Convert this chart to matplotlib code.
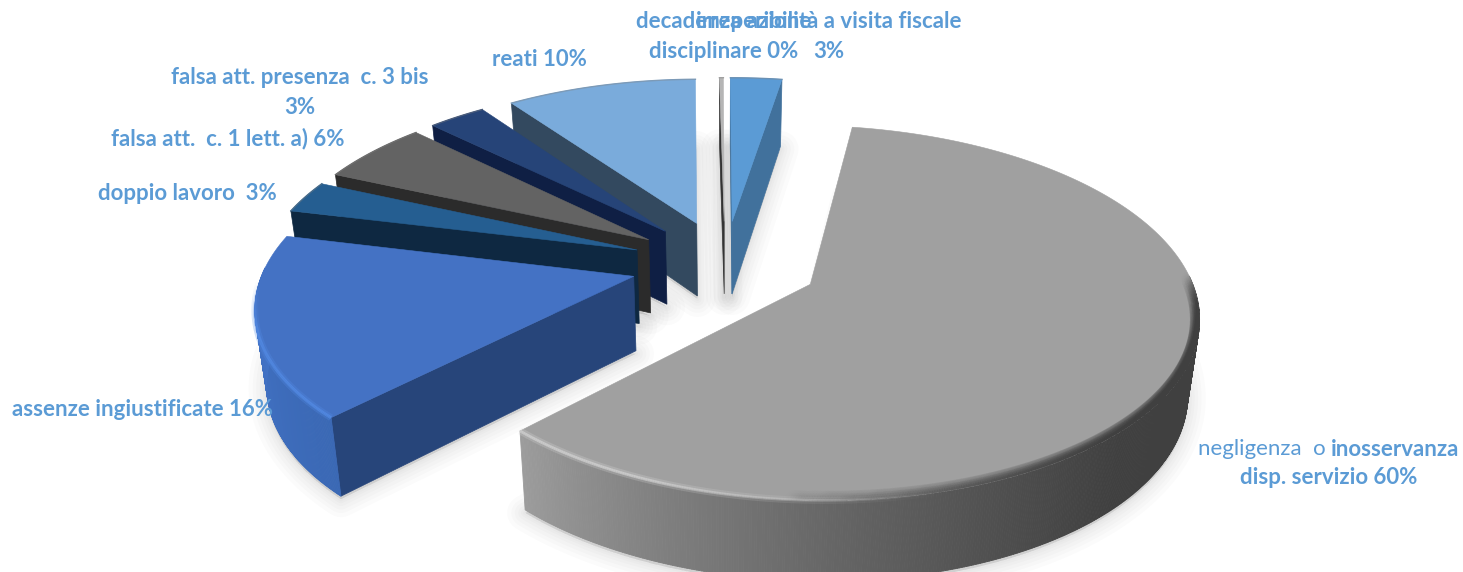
import numpy as np
import matplotlib
matplotlib.use("Agg")
import matplotlib.pyplot as plt
from matplotlib.collections import PolyCollection, LineCollection
from matplotlib.colors import to_rgb
from matplotlib.patches import Polygon

# chart values, clockwise from the big slice
categories = ["negligenza o inosservanza disp. servizio", "assenze ingiustificate", "doppio lavoro",
              "falsa att. c. 1 lett. a)", "falsa att. presenza c. 3 bis", "reati",
              "decadenza azione disciplinare", "irreperibilita a visita fiscale"]
values = [59.8, 16.4, 2.9, 5.6, 2.9, 9.6, 0.2, 2.6]

top_colors = ["#a0a0a0", "#4472c4", "#255e91", "#636363", "#264478", "#7aabdb", "#b5b5b5", "#5b9bd5"]
side_colors = ["#424242", "#27457a", "#0e2841", "#2b2b2b", "#0f1f44", "#33495f", "#333333", "#41719c"]
radius = [1, 0.98, 1, 1, 1, 1, 1, 1]
TEXT = "#5b9bd5"

# fake 3d projection of the pie disc
CX, CY = 725, 264
A, B, K = 376, 177, 0.15
DEPTH = 74
EXPLODE = 0.25
START = 9.2


def project(u, v, z=0.0):
    s = 1 / (1 + K * v)
    x = CX + A * u * s
    # the base plane is further from the camera so it comes out a little narrower
    x = CX + (x - CX) * (1 - 0.025 * z)
    return x, CY - B * v * s + z * DEPTH * (1 - 0.08 * v)


def mix(c1, c2, f):
    c1, c2 = np.array(to_rgb(c1)), np.array(to_rgb(c2))
    return tuple(c1 + (c2 - c1) * f)


def arc_colors(i, ts):
    if i == 0:
        # big slice gets lighter towards the front left corner
        f = np.clip((ts - 135) / (ts.max() - 135), 0, 1)
        return [mix("#404040", "#9c9c9c", x ** 1.25) for x in f]
    return [mix("#3a68b4", "#4474c8", (t - 223) / 50) for t in ts]


fig = plt.figure(figsize=(14.63, 5.72), dpi=100)
ax = fig.add_axes([0, 0, 1, 1])
ax.set_xlim(0, 1463)
ax.set_ylim(572, 0)
ax.axis("off")

fracs = np.array(values) / sum(values) * 360
starts = START + np.concatenate([[0], np.cumsum(fracs)[:-1]])

wedges = []
for i, (t0, w) in enumerate(zip(starts, fracs)):
    mid = np.radians(t0 + w / 2)
    ou, ov = EXPLODE * np.sin(mid), EXPLODE * np.cos(mid)
    ts = np.linspace(t0, t0 + w, max(int(w * 3), 8))
    wedges.append((i, t0, t0 + w, ou, ov, ts))

# soft ground shadows under everything
for i, t0, t1, ou, ov, ts in wedges:
    r = np.radians(ts)
    us = np.r_[ou, ou + radius[i] * np.sin(r)]
    vs = np.r_[ov, ov + radius[i] * np.cos(r)]
    x, y = project(us, vs, 1.0)
    for lw in [26, 20, 15, 10, 6, 3]:
        ax.add_patch(Polygon(np.c_[x, y + 3], closed=True, fc="#000000", ec="#000000", lw=lw,
                             alpha=0.015, joinstyle="round", zorder=1))

# paint from the back round to the front
order = [7, 6, 5, 4, 3, 2, 1, 0]
z = 2
for i in order:
    _, t0, t1, ou, ov, ts = wedges[i]
    r = np.radians(ts)
    us, vs = ou + radius[i] * np.sin(r), ov + radius[i] * np.cos(r)

    # radial walls that face the viewer
    for edge, visible in [(t0, np.sin(np.radians(t0)) < 0), (t1, np.sin(np.radians(t1)) > 0)]:
        if visible:
            eu = np.array([ou, ou + radius[i] * np.sin(np.radians(edge))])
            ev = np.array([ov, ov + radius[i] * np.cos(np.radians(edge))])
            xa, ya = project(eu, ev, 0)
            xb, yb = project(eu, ev, 1)
            ax.add_patch(Polygon(np.c_[np.r_[xa, xb[::-1]], np.r_[ya, yb[::-1]]], closed=True,
                                 fc=side_colors[i], ec=side_colors[i], lw=0.5, zorder=z))

    # outer wall, only the front half of the circle shows
    keep = np.cos(r) < 0.05
    if keep.sum() > 1:
        xa, ya = project(us[keep], vs[keep], 0)
        xb, yb = project(us[keep], vs[keep], 1)
        quads = [[(xa[j], ya[j]), (xa[j + 1], ya[j + 1]), (xb[j + 1], yb[j + 1]), (xb[j], yb[j])]
                 for j in range(len(xa) - 1)]
        cols = arc_colors(i, ts[keep][:-1])
        ax.add_collection(PolyCollection(quads, facecolors=cols, edgecolors=cols, linewidths=0.6, zorder=z))

    # top face
    x, y = project(np.r_[ou, us], np.r_[ov, vs], 0)
    top = Polygon(np.c_[x, y], closed=True, fc=top_colors[i], ec=top_colors[i], lw=0.4, zorder=z + 0.1)
    ax.add_patch(top)

    # bevel along the rim
    ax_x, ax_y = project(us, vs, 0)
    if keep.sum() > 1:
        xa, ya = project(us[keep], vs[keep], 0)
        segs = [[(xa[j], ya[j]), (xa[j + 1], ya[j + 1])] for j in range(len(xa) - 1)]
        tk = ts[keep][:-1]
        if i == 0:
            # dark blur on the right side, pale highlight on the front left
            dark = np.clip((185 - tk) / 70, 0, 1) * np.clip((tk - 88) / 25, 0, 1)
            for lw in [14, 10, 7, 4]:
                lc = LineCollection(segs, colors=[(0.25, 0.25, 0.25, 0.13 * d) for d in dark], linewidths=lw,
                                    zorder=z + 0.2, capstyle="round")
                ax.add_collection(lc)
                lc.set_clip_path(top)
            light = np.clip((tk - 165) / 40, 0, 1)
            for lw, al in [(5, 0.25), (2, 0.6)]:
                lc = LineCollection(segs, colors=[(0.86, 0.86, 0.86, al * d) for d in light], linewidths=lw,
                                    zorder=z + 0.3)
                ax.add_collection(lc)
        else:
            # highlight fades out where the rim turns to the back
            fade = np.clip((268 - tk) / 15, 0, 1)
            for lw, al in [(5, 0.3), (2.2, 0.7)]:
                lc = LineCollection(segs, colors=[(0.33, 0.55, 0.90, al * d) for d in fade], linewidths=lw,
                                    zorder=z + 0.3)
                ax.add_collection(lc)
    else:
        ax.plot(ax_x, ax_y, color=mix(top_colors[i], "#808080", 0.4), lw=1.0, zorder=z + 0.2)
    z += 1

# labels
plt.rcParams["font.family"] = ["Lato", "DejaVu Sans"]
FS = 16
bold = dict(color=TEXT, fontsize=FS, fontweight="bold", ha="center", va="center", zorder=50)
ax.text(724, 22, "decadenza azione", **bold)
ax.text(724, 52, "disciplinare 0%", **bold)
ax.text(829, 22, "irreperibilità a visita fiscale", **bold)
ax.text(829, 52, "3%", **bold)
ax.text(539, 60, "reati 10%", **bold)
ax.text(300, 78, "falsa att. presenza  c. 3 bis", **bold)
ax.text(300, 107, "3%", **bold)
ax.text(228, 139, "falsa att.  c. 1 lett. a) 6%", **bold)
ax.text(187, 193, "doppio lavoro  3%", **bold)
ax.text(142, 409, "assenze ingiustificate 16%", **bold)
ax.text(1326, 449, "negligenza  o", color=TEXT, fontsize=FS, ha="right", va="center", zorder=50)
ax.text(1331, 449, "inosservanza", color=TEXT, fontsize=FS, fontweight="bold", ha="left", va="center", zorder=50)
ax.text(1329, 478, "disp. servizio 60%", **bold)

fig.savefig("out.png", dpi=100, facecolor="white")
